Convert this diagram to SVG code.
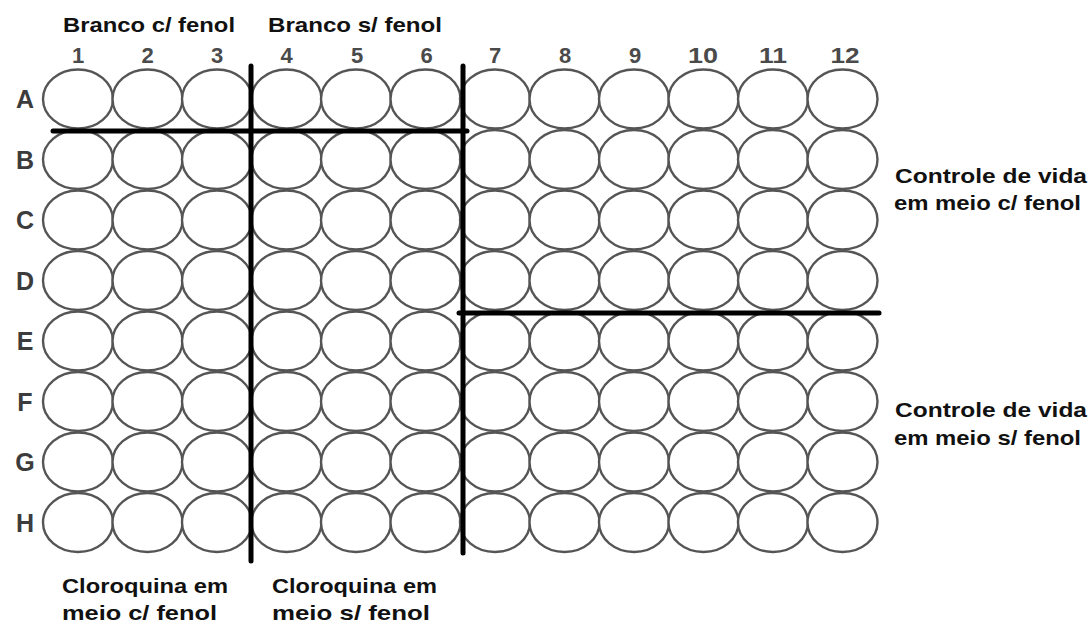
<svg xmlns="http://www.w3.org/2000/svg" xmlns:xlink="http://www.w3.org/1999/xlink" width="1088" height="624" viewBox="0 0 1088 624">
<style>
.well{fill:#fff;stroke:#555;stroke-width:2.4}
.num{font-family:"Liberation Sans",Arial,sans-serif;font-size:22px;font-weight:bold;fill:#4a4a4a;text-anchor:middle}
.row{font-family:"Liberation Sans",Arial,sans-serif;font-size:25px;font-weight:bold;fill:#3c3c3c;text-anchor:middle}
.lbl{font-family:"Liberation Sans",Arial,sans-serif;font-size:21px;font-weight:bold;fill:#111}
.div{stroke:#000;stroke-width:5;stroke-linecap:round;fill:none}
</style>
<defs>
<ellipse id="w" class="well" cx="0" cy="0" rx="35" ry="29.5"/>
</defs>
<rect width="1088" height="624" fill="#fff"/>
<g id="column-numbers">
<text class="num" x="78" y="63">1</text>
<text class="num" x="147.5" y="63">2</text>
<text class="num" x="217" y="63">3</text>
<text class="num" x="286.5" y="63">4</text>
<text class="num" x="357" y="63">5</text>
<text class="num" x="426.5" y="63">6</text>
<text class="num" x="495" y="63">7</text>
<text class="num" x="565" y="63">8</text>
<text class="num" x="635" y="63">9</text>
<text class="num" x="703" y="63" textLength="30" lengthAdjust="spacingAndGlyphs">10</text>
<text class="num" x="773" y="63" textLength="28" lengthAdjust="spacingAndGlyphs">11</text>
<text class="num" x="845" y="63" textLength="29" lengthAdjust="spacingAndGlyphs">12</text>
</g>
<g id="row-letters">
<text class="row" x="25" y="108">A</text>
<text class="row" x="25" y="168.5">B</text>
<text class="row" x="25" y="229">C</text>
<text class="row" x="25" y="289.5">D</text>
<text class="row" x="25" y="350">E</text>
<text class="row" x="25" y="410.5">F</text>
<text class="row" x="25" y="471">G</text>
<text class="row" x="25" y="531.5">H</text>
</g>
<g id="wells">
<g id="row-A">
<use id="A1" href="#w" x="78" y="99"/><use id="A2" href="#w" x="147.5" y="99"/><use id="A3" href="#w" x="217" y="99"/><use id="A4" href="#w" x="286.5" y="99"/><use id="A5" href="#w" x="356" y="99"/><use id="A6" href="#w" x="425.5" y="99"/><use id="A7" href="#w" x="495" y="99"/><use id="A8" href="#w" x="564.5" y="99"/><use id="A9" href="#w" x="634" y="99"/><use id="A10" href="#w" x="703.5" y="99"/><use id="A11" href="#w" x="773" y="99"/><use id="A12" href="#w" x="842.5" y="99"/>
</g>
<g id="row-B">
<use id="B1" href="#w" x="78" y="159.5"/><use id="B2" href="#w" x="147.5" y="159.5"/><use id="B3" href="#w" x="217" y="159.5"/><use id="B4" href="#w" x="286.5" y="159.5"/><use id="B5" href="#w" x="356" y="159.5"/><use id="B6" href="#w" x="425.5" y="159.5"/><use id="B7" href="#w" x="495" y="159.5"/><use id="B8" href="#w" x="564.5" y="159.5"/><use id="B9" href="#w" x="634" y="159.5"/><use id="B10" href="#w" x="703.5" y="159.5"/><use id="B11" href="#w" x="773" y="159.5"/><use id="B12" href="#w" x="842.5" y="159.5"/>
</g>
<g id="row-C">
<use id="C1" href="#w" x="78" y="220"/><use id="C2" href="#w" x="147.5" y="220"/><use id="C3" href="#w" x="217" y="220"/><use id="C4" href="#w" x="286.5" y="220"/><use id="C5" href="#w" x="356" y="220"/><use id="C6" href="#w" x="425.5" y="220"/><use id="C7" href="#w" x="495" y="220"/><use id="C8" href="#w" x="564.5" y="220"/><use id="C9" href="#w" x="634" y="220"/><use id="C10" href="#w" x="703.5" y="220"/><use id="C11" href="#w" x="773" y="220"/><use id="C12" href="#w" x="842.5" y="220"/>
</g>
<g id="row-D">
<use id="D1" href="#w" x="78" y="280.5"/><use id="D2" href="#w" x="147.5" y="280.5"/><use id="D3" href="#w" x="217" y="280.5"/><use id="D4" href="#w" x="286.5" y="280.5"/><use id="D5" href="#w" x="356" y="280.5"/><use id="D6" href="#w" x="425.5" y="280.5"/><use id="D7" href="#w" x="495" y="280.5"/><use id="D8" href="#w" x="564.5" y="280.5"/><use id="D9" href="#w" x="634" y="280.5"/><use id="D10" href="#w" x="703.5" y="280.5"/><use id="D11" href="#w" x="773" y="280.5"/><use id="D12" href="#w" x="842.5" y="280.5"/>
</g>
<g id="row-E">
<use id="E1" href="#w" x="78" y="341"/><use id="E2" href="#w" x="147.5" y="341"/><use id="E3" href="#w" x="217" y="341"/><use id="E4" href="#w" x="286.5" y="341"/><use id="E5" href="#w" x="356" y="341"/><use id="E6" href="#w" x="425.5" y="341"/><use id="E7" href="#w" x="495" y="341"/><use id="E8" href="#w" x="564.5" y="341"/><use id="E9" href="#w" x="634" y="341"/><use id="E10" href="#w" x="703.5" y="341"/><use id="E11" href="#w" x="773" y="341"/><use id="E12" href="#w" x="842.5" y="341"/>
</g>
<g id="row-F">
<use id="F1" href="#w" x="78" y="401.5"/><use id="F2" href="#w" x="147.5" y="401.5"/><use id="F3" href="#w" x="217" y="401.5"/><use id="F4" href="#w" x="286.5" y="401.5"/><use id="F5" href="#w" x="356" y="401.5"/><use id="F6" href="#w" x="425.5" y="401.5"/><use id="F7" href="#w" x="495" y="401.5"/><use id="F8" href="#w" x="564.5" y="401.5"/><use id="F9" href="#w" x="634" y="401.5"/><use id="F10" href="#w" x="703.5" y="401.5"/><use id="F11" href="#w" x="773" y="401.5"/><use id="F12" href="#w" x="842.5" y="401.5"/>
</g>
<g id="row-G">
<use id="G1" href="#w" x="78" y="462"/><use id="G2" href="#w" x="147.5" y="462"/><use id="G3" href="#w" x="217" y="462"/><use id="G4" href="#w" x="286.5" y="462"/><use id="G5" href="#w" x="356" y="462"/><use id="G6" href="#w" x="425.5" y="462"/><use id="G7" href="#w" x="495" y="462"/><use id="G8" href="#w" x="564.5" y="462"/><use id="G9" href="#w" x="634" y="462"/><use id="G10" href="#w" x="703.5" y="462"/><use id="G11" href="#w" x="773" y="462"/><use id="G12" href="#w" x="842.5" y="462"/>
</g>
<g id="row-H">
<use id="H1" href="#w" x="78" y="522.5"/><use id="H2" href="#w" x="147.5" y="522.5"/><use id="H3" href="#w" x="217" y="522.5"/><use id="H4" href="#w" x="286.5" y="522.5"/><use id="H5" href="#w" x="356" y="522.5"/><use id="H6" href="#w" x="425.5" y="522.5"/><use id="H7" href="#w" x="495" y="522.5"/><use id="H8" href="#w" x="564.5" y="522.5"/><use id="H9" href="#w" x="634" y="522.5"/><use id="H10" href="#w" x="703.5" y="522.5"/><use id="H11" href="#w" x="773" y="522.5"/><use id="H12" href="#w" x="842.5" y="522.5"/>
</g>
</g>
<g id="dividers">
<line class="div" x1="53" y1="131" x2="467" y2="131"/>
<line class="div" x1="251" y1="66" x2="251" y2="561"/>
<line class="div" x1="463" y1="66" x2="463" y2="553"/>
<line class="div" x1="459" y1="313" x2="879" y2="313"/>
</g>
<g id="label-branco-c">
<text class="lbl" x="63" y="32" textLength="172" lengthAdjust="spacingAndGlyphs">Branco c/ fenol</text>
</g>
<g id="label-branco-s">
<text class="lbl" x="268" y="32" textLength="174" lengthAdjust="spacingAndGlyphs">Branco s/ fenol</text>
</g>
<g id="label-controle-c">
<text class="lbl" x="895" y="183" textLength="192" lengthAdjust="spacingAndGlyphs">Controle de vida</text>
<text class="lbl" x="894" y="210" textLength="187" lengthAdjust="spacingAndGlyphs">em meio c/ fenol</text>
</g>
<g id="label-controle-s">
<text class="lbl" x="895" y="417" textLength="192" lengthAdjust="spacingAndGlyphs">Controle de vida</text>
<text class="lbl" x="894" y="445" textLength="187" lengthAdjust="spacingAndGlyphs">em meio s/ fenol</text>
</g>
<g id="label-cloroquina-c">
<text class="lbl" x="62" y="593" textLength="166" lengthAdjust="spacingAndGlyphs">Cloroquina em</text>
<text class="lbl" x="62" y="620" textLength="155" lengthAdjust="spacingAndGlyphs">meio c/ fenol</text>
</g>
<g id="label-cloroquina-s">
<text class="lbl" x="272" y="593" textLength="165" lengthAdjust="spacingAndGlyphs">Cloroquina em</text>
<text class="lbl" x="272" y="620" textLength="158" lengthAdjust="spacingAndGlyphs">meio s/ fenol</text>
</g>
</svg>
